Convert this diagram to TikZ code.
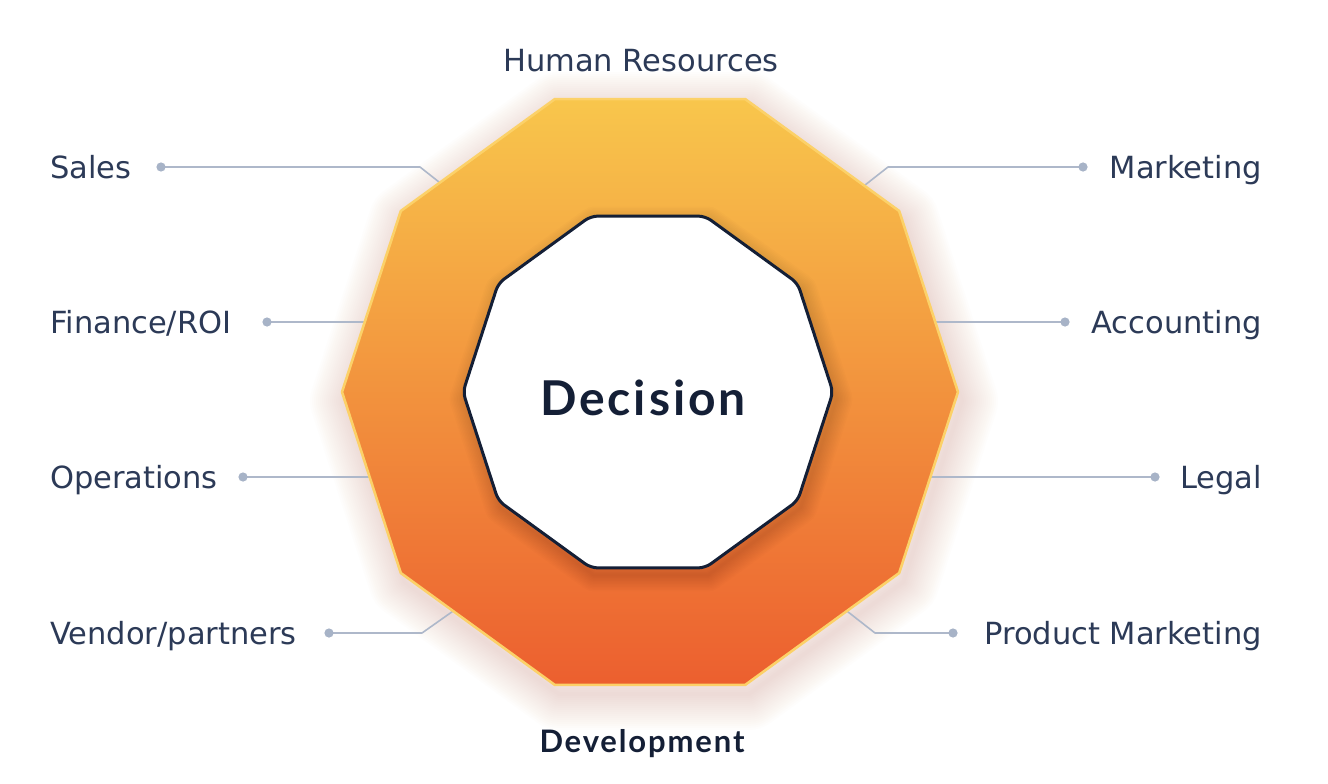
\documentclass[tikz,border=0pt]{standalone}
\usepackage{fontspec}
\setmainfont{DejaVu Sans}
\newfontfamily\headfont[LetterSpace=6]{Lato}
\definecolor{txt}{HTML}{2C3A57}
\definecolor{navy}{HTML}{141F36}
\definecolor{conncol}{HTML}{AEB8CA}
\definecolor{dotcol}{HTML}{A7B3C7}
\definecolor{gtop}{HTML}{F8C64C}
\definecolor{gmid}{HTML}{F29B3D}
\definecolor{gbot}{HTML}{EC5F2F}
\definecolor{rimcol}{HTML}{FCD168}
\definecolor{glowcol}{HTML}{C8864A}
\tikzset{
  lbl/.style={inner sep=0pt, text=txt, font=\fontsize{30.5}{31}\selectfont, text height=22pt, text depth=0pt},
  conn/.style={draw=conncol, line width=1.6pt, line join=round},
  dotmark/.style={fill=dotcol},
}
\def\outerpath{(650,99.1) -- (745.2,99.1) -- (899.2,211) -- (958,392) -- (899.2,573) -- (745.2,684.9) -- (554.8,684.9) -- (400.8,573) -- (342,392) -- (400.8,211) -- (554.8,99.1) -- cycle}
\def\innerpath{(648,216.1) -- (705.2,216.1) -- (797.7,283.3) -- (833,392) -- (797.7,500.7) -- (705.2,567.9) -- (590.8,567.9) -- (498.3,500.7) -- (463,392) -- (498.3,283.3) -- (590.8,216.1) -- cycle}
\begin{document}
\begin{tikzpicture}[x=1pt,y=-1pt]
\useasboundingbox[fill=white] (0,0) rectangle (1328,784);

% glow around the outer decagon
\begin{scope}[transform canvas={xshift=4pt,yshift=-9pt}]
  \foreach \w in {4,8,...,72} {
    \draw[glowcol, line width=\w pt, line join=round, opacity=0.012] \outerpath;
  }
\end{scope}

% labels
\node[lbl] (hr) at (641,60) {Human Resources};
\node[lbl, anchor=west] (sales) at (50,167) {Sales};
\node[lbl, anchor=west] (fin) at (50,322) {Finance/ROI};
\node[lbl, anchor=west] (ops) at (50,477) {Operations};
\node[lbl, anchor=west] (ven) at (50,633) {Vendor/partners};
\node[lbl, anchor=east] (mkt) at (1262,167) {Marketing};
\node[lbl, anchor=east] (acc) at (1262,322) {Accounting};
\node[lbl, anchor=east] (leg) at (1262,477) {Legal};
\node[lbl, anchor=east] (pm) at (1262,633) {Product Marketing};

% connector points
\coordinate (dsales) at (161,167); \coordinate (bsales) at (420,167); \coordinate (esales) at (444,186);
\coordinate (dfin) at (267,322);   \coordinate (efin) at (369,322);
\coordinate (dops) at (243,477);   \coordinate (eops) at (374,477);
\coordinate (dven) at (329,633);   \coordinate (bven) at (422,633); \coordinate (even) at (456,609);
\coordinate (dmkt) at (1083,167);  \coordinate (bmkt) at (888,167); \coordinate (emkt) at (860,189);
\coordinate (dacc) at (1065,322);  \coordinate (eacc) at (931,322);
\coordinate (dleg) at (1155,477);  \coordinate (eleg) at (926,477);
\coordinate (dpm) at (953,633);    \coordinate (bpm) at (875,633); \coordinate (epm) at (843,608);

\draw[conn] (dsales) -- (bsales) -- (esales);
\draw[conn] (dfin) -- (efin);
\draw[conn] (dops) -- (eops);
\draw[conn] (dven) -- (bven) -- (even);
\draw[conn] (dmkt) -- (bmkt) -- (emkt);
\draw[conn] (dacc) -- (eacc);
\draw[conn] (dleg) -- (eleg);
\draw[conn] (dpm) -- (bpm) -- (epm);
\foreach \d in {dsales,dfin,dops,dven,dmkt,dacc,dleg,dpm} {
  \fill[dotmark] (\d) circle (4.6pt);
}

% outer decagon
\shade[top color=gtop, middle color=gmid, bottom color=gbot] \outerpath;
\draw[rimcol, line width=2.6pt, line join=round] \outerpath;

% inner shadow
\begin{scope}[transform canvas={xshift=3pt,yshift=-7pt}]
  \foreach \w in {3,6,...,33} {
    \draw[black, line width=\w pt, line join=round, opacity=0.013] \innerpath;
  }
\end{scope}

% inner decagon
\draw[fill=white, draw=navy, line width=3pt, rounded corners=7pt] \innerpath;

\node[inner sep=0pt, text=navy, font=\headfont\bfseries\fontsize{48}{48}\selectfont, text height=34.5pt, text depth=0pt] (dec) at (643,398) {Decision};
\node[inner sep=0pt, text=navy, font=\headfont\bfseries\fontsize{31}{31}\selectfont, text height=22.3pt, text depth=0pt] (dev) at (642,741) {Development};
\end{tikzpicture}
\end{document}
